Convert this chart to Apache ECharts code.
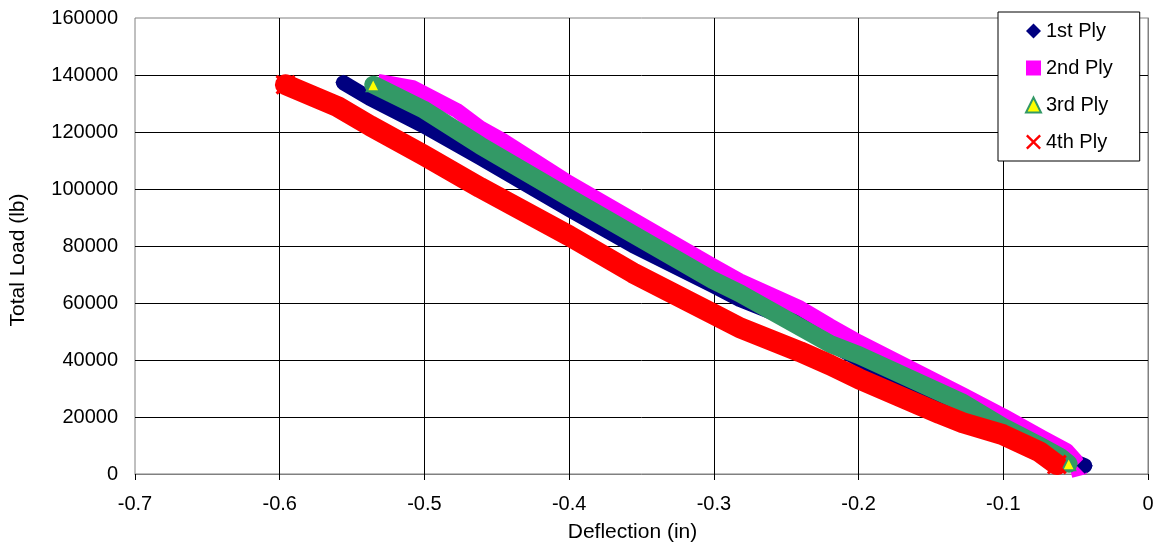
<!DOCTYPE html>
<html>
<head>
<meta charset="utf-8">
<script src="https://cdn.jsdelivr.net/npm/echarts@6/dist/echarts.min.js"></script>
<style>
html,body{margin:0;padding:0;background:#fff;}
#chart{width:1163px;height:544px;}
</style>
</head>
<body>
<div id="chart"></div>
<script>
// ---- data (deflection in, total load lb) ----
const seriesNames = ['1st Ply', '2nd Ply', '3rd Ply', '4th Ply'];
const ply1 = [[-0.556,137300],[-0.5375,131700],[-0.501,122300],[-0.4615,111000],[-0.400,92800],[-0.356,80200],[-0.3006,66100],[-0.282,61200],[-0.2405,52800],[-0.2108,43300],[-0.1266,19100],[-0.1003,13400],[-0.0713,8500],[-0.0437,2900]];
const ply2 = [[-0.527,137300],[-0.508,135600],[-0.4774,127500],[-0.4615,121500],[-0.4457,117000],[-0.400,102200],[-0.3006,73100],[-0.282,67800],[-0.2405,58300],[-0.2198,52000],[-0.1998,46300],[-0.128,27800],[-0.1003,20500],[-0.0727,12700],[-0.0562,8200],[-0.050,4700],[-0.0486,1900]];
const ply3 = [[-0.5354,136600],[-0.501,128000],[-0.4615,115300],[-0.400,97000],[-0.3006,68000],[-0.282,63400],[-0.2198,45700],[-0.1998,41700],[-0.128,25000],[-0.1003,16600],[-0.0748,9900],[-0.061,6100],[-0.0548,3600]];
const ply4 = [[-0.596,136600],[-0.560,128900],[-0.5375,122200],[-0.501,112000],[-0.4615,100500],[-0.400,83600],[-0.356,70600],[-0.3006,56200],[-0.282,51300],[-0.2405,42900],[-0.2198,38300],[-0.1998,33400],[-0.144,21200],[-0.128,18000],[-0.1003,13800],[-0.075,7800],[-0.063,3300]];
const xAxisMin = -0.7, xAxisMax = 0, xAxisStep = 0.1;
const yAxisMin = 0, yAxisMax = 160000, yAxisStep = 20000;
const xTitle = 'Deflection (in)';
const yTitle = 'Total Load (lb)';

const FONT = 'Liberation Sans, Arial, sans-serif';
const XPATH = 'path://M0,1.1L1.1,0L5,3.9L8.9,0L10,1.1L6.1,5L10,8.9L8.9,10L5,6.1L1.1,10L0,8.9L3.9,5Z';

function endSize(size, n) {
  return function (val, params) {
    return (params.dataIndex === 0 || params.dataIndex === n - 1) ? size : 0;
  };
}

const chart = echarts.init(document.getElementById('chart'), null, {renderer: 'canvas'});
chart.setOption({
  animation: false,
  backgroundColor: '#ffffff',
  textStyle: {fontFamily: FONT, color: '#000'},
  grid: {left: 135, right: 15, top: 18, bottom: 70, show: true, borderColor: '#808080', borderWidth: 1,
         containLabel: false, outerBoundsMode: 'none'},
  legend: {
    orient: 'vertical',
    left: 998, top: 12,
    backgroundColor: '#ffffff',
    borderColor: '#000', borderWidth: 1,
    padding: [9, 27, 9, 27],
    itemGap: 17, itemWidth: 15, itemHeight: 15,
    textStyle: {fontSize: 20, fontFamily: FONT, color: '#000'},
    data: [
      {name: seriesNames[0], icon: 'diamond'},
      {name: seriesNames[1], icon: 'rect'},
      {name: seriesNames[2], icon: 'triangle'},
      {name: seriesNames[3], icon: XPATH}
    ]
  },
  xAxis: {
    type: 'value', min: xAxisMin, max: xAxisMax, interval: xAxisStep,
    name: xTitle, nameLocation: 'middle', nameGap: 48,
    nameTextStyle: {fontSize: 21, fontFamily: FONT, color: '#000', padding: [0, 18, 0, 0]},
    axisLine: {show: true, onZero: false, lineStyle: {color: '#808080', width: 1}},
    axisTick: {show: true, length: 6, lineStyle: {color: '#000'}},
    axisLabel: {fontSize: 20, fontFamily: FONT, color: '#000', margin: 20,
      formatter: v => (Math.abs(v) < 1e-9 ? '0' : (+v.toFixed(1)).toString())},
    splitLine: {show: true, showMinLine: false, lineStyle: {color: '#000', width: 1}}
  },
  yAxis: {
    type: 'value', min: yAxisMin, max: yAxisMax, interval: yAxisStep,
    name: yTitle, nameLocation: 'middle', nameGap: 106,
    nameTextStyle: {fontSize: 21, fontFamily: FONT, color: '#000', padding: [0, 28, 0, 0]},
    axisLine: {show: true, lineStyle: {color: '#808080', width: 1}},
    axisTick: {show: false},
    axisLabel: {fontSize: 20, fontFamily: FONT, color: '#000', margin: 17,
      formatter: v => String(Math.round(v))},
    splitLine: {show: true, showMinLine: false, showMaxLine: false, lineStyle: {color: '#000', width: 1}}
  },
  series: [
    {
      name: seriesNames[0], type: 'line', data: ply1,
      symbol: 'diamond', symbolSize: endSize(16, ply1.length),
      itemStyle: {color: '#000080'},
      lineStyle: {color: '#000080', width: 15, cap: 'round', join: 'round'}
    },
    {
      name: seriesNames[1], type: 'line', data: ply2,
      symbol: 'rect', symbolSize: endSize(0, ply2.length), showSymbol: false,
      itemStyle: {color: '#ff00ff'},
      lineStyle: {color: '#ff00ff', width: 15, cap: 'square', join: 'round'}
    },
    {
      name: seriesNames[2], type: 'line', data: ply3,
      symbol: 'triangle', symbolSize: endSize(13, ply3.length),
      itemStyle: {color: '#ffff00', borderColor: '#339966', borderWidth: 2},
      lineStyle: {color: '#339966', width: 18, cap: 'round', join: 'round'}
    },
    {
      name: seriesNames[3], type: 'line', data: ply4,
      symbol: XPATH, symbolSize: endSize(20, ply4.length),
      itemStyle: {color: '#ff0000'},
      lineStyle: {color: '#ff0000', width: 21, cap: 'round', join: 'round'}
    }
  ]
});
</script>
</body>
</html>
